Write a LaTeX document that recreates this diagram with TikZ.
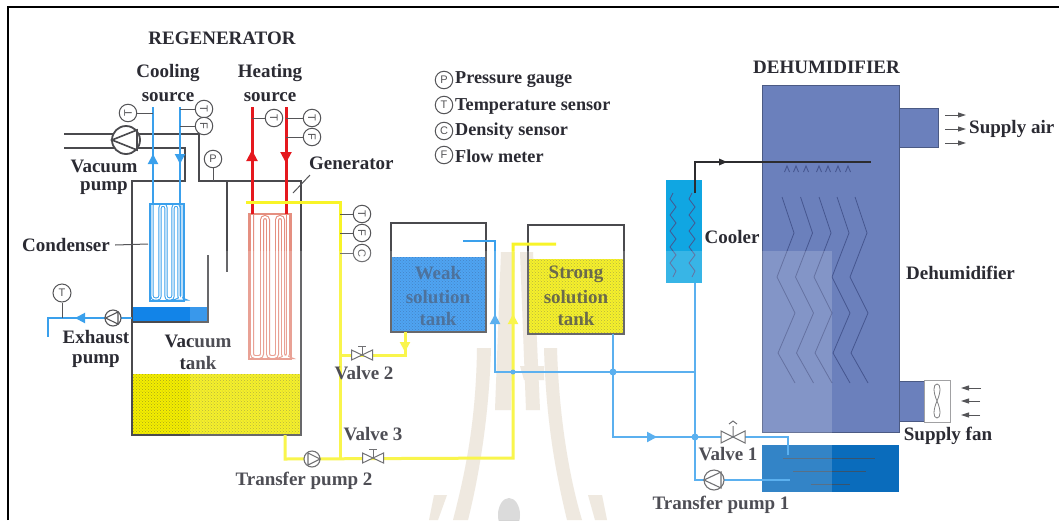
\documentclass[tikz,border=0pt]{standalone}
\usepackage{fontspec}
\setmainfont{Liberation Serif}
\newfontfamily\senfont{Liberation Sans}
\usetikzlibrary{arrows.meta,patterns,calc}
\definecolor{inkc}{HTML}{2B2B33}
\definecolor{wallc}{HTML}{4A4A4E}
\definecolor{bluec}{HTML}{3AA0EC}
\definecolor{redc}{HTML}{E5181E}
\definecolor{yelc}{HTML}{F8F428}
\definecolor{tanky}{HTML}{F4EE00}
\definecolor{tankyd}{HTML}{A8A418}
\definecolor{tankb}{HTML}{2C92F0}
\definecolor{tankbd}{HTML}{1F6CB8}
\definecolor{condw}{HTML}{1284E8}
\definecolor{coolc}{HTML}{10A6E2}
\definecolor{coilr}{HTML}{E58F80}
\definecolor{dehc}{HTML}{6B80BC}
\definecolor{zigc}{HTML}{46568F}
\definecolor{waterc}{HTML}{0A6CBC}
\definecolor{wmc}{HTML}{ECE5DA}
\definecolor{senc}{HTML}{555558}
\definecolor{weakt}{HTML}{2A5688}
\definecolor{strongt}{HTML}{4C4C28}
\tikzset{
  lab/.style={font=\bfseries\fontsize{19}{22}\selectfont,text=inkc,inner sep=0pt},
  leg/.style={font=\bfseries\fontsize{18.2}{22}\selectfont,text=inkc,inner sep=0pt,anchor=west},
  wall/.style={draw=wallc,line width=2.4pt},
  lead/.style={draw=senc,line width=1pt},
  sensor/.style={circle,draw=senc,line width=1pt,fill=white,inner sep=0pt,minimum size=17.5pt,font=\senfont\fontsize{11}{11}\selectfont,text=senc},
  bpipe/.style={draw=bluec,line width=2.8pt},
  rpipe/.style={draw=redc,line width=3pt},
  ypipe/.style={draw=yelc,line width=3pt},
  dot/.style={circle,fill=bluec,inner sep=0pt,minimum size=7pt},
  tipb/.style={-{Triangle[length=10pt,width=10pt]},bpipe,line width=2pt},
  tipr/.style={-{Triangle[length=11pt,width=11pt]},rpipe,line width=2pt},
  tipy/.style={-{Triangle[length=10pt,width=10pt]},ypipe,line width=2pt},
  airflow/.style={draw=senc,line width=1pt,-{Triangle[length=8pt,width=5pt]}},
  pumpc/.style={circle,draw=senc,line width=1.1pt,fill=white,inner sep=0pt},
  pumpt/.style={draw=senc,line width=1.1pt},
  valvet/.style={draw=senc,line width=1pt,fill=white},
  zig/.style={draw=zigc,line width=.8pt},
  wm/.style={fill=wmc},
  coilb/.style={draw=bluec,line width=1pt,double=white,double distance=1.3pt,rounded corners=3pt},
  coilh/.style={draw=coilr,line width=1.1pt,double=white,double distance=1.8pt,rounded corners=3pt},
}
\begin{document}
\begin{tikzpicture}[x=1pt,y=-1pt]
\useasboundingbox (0,0) rectangle (1059,520);
\fill[white] (0,0) rectangle (1059,520);
% frame (left and top only)
\draw[black,line width=2.2pt] (8,520) -- (8,7) -- (1059,7);
% watermark
\fill[wm] (501,252) -- (515,252) -- (511,410) -- (495,410) -- cycle;
\fill[wm] (520,252) -- (533,252) -- (540,410) -- (526,410) -- cycle;
\fill[wm] (520,366) -- (544,366) -- (544,380) -- (524,380) -- cycle;
\fill[wm] (477,348) -- (491,348) .. controls (489,420) and (478,480) .. (468,520) -- (453,520) .. controls (466,470) and (476,420) .. cycle;
\fill[wm] (544,348) -- (557,348) .. controls (559,420) and (570,480) .. (582,520) -- (567,520) .. controls (555,470) and (546,420) .. cycle;
\fill[wm] (434,495) -- (447,495) -- (438,520) -- (429,520) -- cycle;
\fill[wm] (588,495) -- (602,495) -- (607,520) -- (595,520) -- cycle;
\fill[black!17] (509,515) ellipse (11 and 17);
% vacuum tank liquids
\fill[tanky] (132,374) rectangle (301,435);
\fill[pattern=crosshatch dots,pattern color=tankyd] (132,374) rectangle (301,435);
\fill[condw] (132,307) rectangle (208,322);
% coils
\draw[coilb] (152,204) -- (152,299) -- (160,299) -- (160,205) -- (166,205) -- (166,299) -- (173,299) -- (173,205) -- (179,205) -- (179,299) -- (182,299) -- (182,204);
\draw[bluec,line width=1.6pt] (150,204) rectangle (184,301);
\draw[coilh] (252,214) -- (252,357) -- (262,357) -- (262,217) -- (268,217) -- (268,357) -- (277,357) -- (277,217) -- (283,217) -- (283,357) -- (288,357) -- (288,214);
\draw[coilr,line width=1.4pt] (249,214) rectangle (291,359);
% tank walls and vacuum plumbing
\coordinate (vpL) at (64,134); \coordinate (vpL2) at (64,148);
\coordinate (topA) at (185,148); \coordinate (topB) at (185,181);
\coordinate (topC) at (199,134); \coordinate (topD) at (199,181);
\coordinate (tankTL) at (132,181); \coordinate (tankTR) at (301,181);
\coordinate (tankBL) at (132,435); \coordinate (tankBR) at (301,435);
\draw[wall] (vpL2) -- (topA) -- (topB) -- (tankTL) -- (tankBL) -- (tankBR) -- (tankTR) -- (topD) -- (topC) -- (vpL);
\draw[wall] (227,181) -- (227,272);
\draw[wall] (208,255) -- (208,322) -- (132,322);
% heating/cooling pipes
\coordinate (cu0) at (153,107); \coordinate (cu1) at (153,204);
\coordinate (cd0) at (180,107); \coordinate (cd1) at (180,204);
\coordinate (hu0) at (252,107); \coordinate (hu1) at (252,214);
\coordinate (hd0) at (286,107); \coordinate (hd1) at (286,214);
\draw[bpipe] (cu0) -- (cu1);
\draw[bpipe] (cd0) -- (cd1);
\draw[rpipe] (hu0) -- (hu1);
\draw[rpipe] (hd0) -- (hd1);
\draw[tipb] (153,168) -- (153,154);
\draw[tipb] (180,150) -- (180,164);
\draw[tipr] (252,165) -- (252,150);
\draw[tipr] (286,148) -- (286,163);
% sensors of the regenerator
\node[sensor,rotate=90] (s1) at (128,113) {T};
\node[sensor,rotate=-90] (s2) at (204,109) {T};
\node[sensor,rotate=-90] (s3) at (204,126) {F};
\node[sensor,rotate=-90] (s4) at (274,118) {T};
\node[sensor,rotate=-90] (s5) at (312,118) {T};
\node[sensor,rotate=-90] (s6) at (312,137) {F};
\node[sensor] (s7) at (213,159) {P};
\draw[lead] (s1) -- (cu0 |- s1);
\draw[lead] (s2) -- (cd0 |- s2);
\draw[lead] (s3) -- (cd0 |- s3);
\draw[lead] (s4) -- (hu0 |- s4);
\draw[lead] (s5) -- (hd0 |- s5);
\draw[lead] (s6) -- (hd0 |- s6);
\draw[lead] (s7) -- (s7 |- tankTR);
% vacuum pump
\node[pumpc,minimum size=28pt,draw=wallc,line width=1.8pt] (vp) at (126,140) {};
\draw[pumpt,draw=wallc,line width=1.6pt] (112,140) -- (137,130) -- (137,150) -- cycle;
% exhaust
\coordinate (exA) at (132,318); \coordinate (exB) at (48,318); \coordinate (exC) at (48,337);
\draw[bpipe] (exA) -- (exB) -- (exC);
\draw[tipb] (88,318) -- (75,318);
\node[sensor,minimum size=18pt] (s8) at (62,293) {T};
\draw[lead] (s8) -- (s8 |- exB);
\node[pumpc,minimum size=16pt] (ep) at (113,318) {};
\draw[pumpt] (105.5,318) -- (118,312) -- (118,324) -- cycle;
% weak tank
\fill[tankb] (391,257) rectangle (486,332);
\fill[pattern=crosshatch dots,pattern color=tankbd] (391,257) rectangle (486,332);
\node[draw=wallc,line width=1.8pt,minimum width=95pt,minimum height=109pt,inner sep=0pt] (weak) at (438.5,277.5) {};
% strong tank
\fill[tanky] (528,259) rectangle (624,334);
\fill[pattern=crosshatch dots,pattern color=tankyd] (528,259) rectangle (624,334);
\node[draw=wallc,line width=1.8pt,minimum width=96pt,minimum height=109pt,inner sep=0pt] (strong) at (576,279.5) {};
% yellow pipes
\coordinate (y1) at (246,202); \coordinate (y2) at (340,202); \coordinate (y3) at (340,458);
\draw[ypipe] (y1) -- (y2) -- (y3);
\coordinate (v2) at (362,355); \coordinate (y4) at (405,355); \coordinate (y5) at (405,332);
\draw[ypipe] (v2 -| y2) -- (y4) -- (y5);
\draw[tipy] (405,338) -- (405,352);
\coordinate (y6) at (285,435); \coordinate (y7) at (285,459); \coordinate (y8) at (513,458); \coordinate (y9) at (513,244); \coordinate (y10) at (556,244);
\draw[ypipe] (y6) -- (y7) -- (y8) -- (y9) -- (y10);
\draw[tipy] (513,328) -- (513,314);
% density etc sensors
\node[sensor,rotate=-90] (s9) at (362,214) {T};
\node[sensor,rotate=-90] (s10) at (362,233) {F};
\node[sensor,rotate=-90] (s11) at (362,253) {C};
\draw[lead] (s9) -- (y2 |- s9);
\draw[lead] (s10) -- (y2 |- s10);
\draw[lead] (s11) -- (y2 |- s11);
% transfer pump 2, valves 2, 3
\node[pumpc,minimum size=16pt] (tp2) at (312,459) {};
\draw[pumpt] (320,459) -- (308,453) -- (308,465) -- cycle;
\coordinate (v3) at (373,458);
\draw[valvet] (v2) ++(-10.5,-5) -- ++(21,10) -- ++(0,-10) -- ++(-21,10) -- cycle;
\draw[senc,line width=1pt] (v2) -- ++(0,-8) ++(-4,-1) -- ++(8,0);
\draw[valvet] (v3) ++(-10.5,-5) -- ++(21,10) -- ++(0,-10) -- ++(-21,10) -- cycle;
\draw[senc,line width=1pt] (v3) -- ++(0,-8) ++(-4,-1) -- ++(8,0);
% dehumidifier
\fill[dehc,draw=dehc!70!black,line width=.6pt] (762,85) rectangle (899,432);
\fill[dehc,draw=dehc!70!black,line width=.6pt] (899,108) rectangle (938,147);
\fill[dehc,draw=dehc!70!black,line width=.6pt] (899,381) rectangle (924,421);
\fill[waterc] (762,445) rectangle (899,492);
\foreach \d in {0,18.5,37,55,73}{
  \draw[zig,shift={(\d,0)}] (782,197) -- (794,233) -- (777,277) -- (795,313) -- (778,353) -- (795,383);
}
\draw[wallc!70!waterc,line width=.8pt] (783,458) -- (875,458);
\draw[wallc!70!waterc,line width=.8pt] (793,471) -- (866,471);
\draw[wallc!70!waterc,line width=.8pt] (811,484) -- (850,484);
% supply fan
\node[draw=senc!55,line width=1pt,fill=white,minimum width=26pt,minimum height=42pt,inner sep=0pt] (fan) at (937,401) {};
\draw[senc!75,line width=.8pt] (937,401) .. controls (933,392) and (933,384) .. (937,384) .. controls (941,384) and (941,392) .. (937,401) .. controls (933,410) and (933,418) .. (937,418) .. controls (941,418) and (941,410) .. (937,401) -- cycle;
\coordinate (fa1) at (981,388); \coordinate (fb1) at (961,388);
\coordinate (fa2) at (980,401); \coordinate (fb2) at (961,401);
\coordinate (fa3) at (980,415); \coordinate (fb3) at (961,415);
\draw[airflow] (fa1) -- (fb1);
\draw[airflow] (fa2) -- (fb2);
\draw[airflow] (fa3) -- (fb3);
\coordinate (sa1) at (945,115); \coordinate (sb1) at (966,115);
\coordinate (sa2) at (945,129); \coordinate (sb2) at (966,129);
\coordinate (sa3) at (945,143); \coordinate (sb3) at (966,143);
\draw[airflow] (sa1) -- (sb1);
\draw[airflow] (sa2) -- (sb2);
\draw[airflow] (sa3) -- (sb3);
% cooler
\node[fill=coolc,minimum width=36pt,minimum height=103pt,inner sep=0pt] (cooler) at (684,231.5) {};
\foreach \xx in {673,692}{
  \draw[zigc,line width=.8pt] (\xx,193) -- ++(-3,6) -- ++(6,8) -- ++(-6,8) -- ++(6,8) -- ++(-6,8) -- ++(6,8) -- ++(-6,8) -- ++(6,8) -- ++(-6,8) -- ++(6,8) -- ++(-3,6);
}
% black spray pipe
\coordinate (bk0) at (695,193); \coordinate (bk1) at (695,162); \coordinate (bk2) at (871,162);
\draw[wallc!60!black,line width=2.4pt] (bk0) -- (bk1) -- (bk2);
\fill[wallc!60!black] (727,162) -- (719,158.5) -- (719,165.5) -- cycle;
\foreach \xx in {787,796,806,819,828,838,848}{
  \draw[zigc,line width=.9pt] (\xx-2.5,172) -- (\xx,166) -- (\xx+2.5,172);
}
% blue network
\coordinate (b1) at (463,241); \coordinate (b2) at (495,241); \coordinate (b3) at (495,372); \coordinate (b4) at (695,372);
\draw[bpipe] (b1) -- (b2) -- (b3) -- (b4);
\draw[tipb] (495,328) -- (495,314);
\coordinate (b5) at (613,334); \coordinate (b6) at (613,437); \coordinate (v1) at (733,437);
\coordinate (b7) at (788,437); \coordinate (b8) at (788,455);
\draw[bpipe] (b5) -- (b6) -- (b7) -- (b8);
\draw[tipb] (643,437) -- (657,437);
\coordinate (b9) at (695,283); \coordinate (b10) at (695,480); \coordinate (b11) at (790,480);
\draw[bpipe] (b9) -- (b10) -- (b11);
\node[dot] (d1) at (b5 |- b3) {};
\node[dot] (d2) at (b9 |- b6) {};
\node[dot,minimum size=5pt] (d3) at (y8 |- b3) {};
% valve 1, transfer pump 1
\draw[valvet] (v1) ++(-12,-6) -- ++(24,12) -- ++(0,-12) -- ++(-24,12) -- cycle;
\draw[senc,line width=1pt] (v1) -- ++(0,-11) ++(-4,-2) -- ++(4,-3) -- ++(4,3);
\node[pumpc,minimum size=20pt] (tp1) at (714,480) {};
\draw[pumpt] (704,480) -- (721,472) -- (721,488) -- cycle;
% labels
\node[lab] (t1) at (222,38) {REGENERATOR};
\node[lab] (t2) at (826.5,67) {DEHUMIDIFIER};
\node[lab] (t3) at (168,73) {Cooling};
\node[lab] (t4) at (168,97) {source};
\node[lab] (t5) at (270,73) {Heating};
\node[lab] (t6) at (270,97) {source};
\node[lab] (t7) at (104,166) {Vacuum};
\node[lab] (t8) at (104,188) {pump};
\node[lab,anchor=west] (t9) at (22,245) {Condenser};
\coordinate (cl) at (148,244);
\draw[lead] (t9.east)++(5,0) -- (cl);
\node[lab,anchor=west] (t10) at (309,163) {Generator};
\coordinate (gl1) at (310,175); \coordinate (gl2) at (293,193);
\draw[lead] (gl1) -- (gl2);
\node[lab] (t11) at (96,337) {Exhaust};
\node[lab] (t12) at (96,361) {pump};
\node[lab] (t13) at (198,341) {Vacuum};
\node[lab] (t14) at (198,363) {tank};
\node[lab] (t15) at (364,373) {Valve 2};
\node[lab] (t16) at (373,434) {Valve 3};
\node[lab] (t17) at (304,481) {Transfer pump 2};
\node[lab] (t18) at (728,454) {Valve 1};
\node[lab] (t19) at (721,505) {Transfer pump 1};
\node[lab] (t20) at (948,436) {Supply fan};
\node[lab,anchor=west] (t21) at (969,129) {Supply air};
\node[lab] (t22) at (732,237) {Cooler};
\node[lab,anchor=west] (t23) at (906,273) {Dehumidifier};
\node[lab,text=weakt] (t24) at (438,273) {Weak};
\node[lab,text=weakt] (t25) at (438,297) {solution};
\node[lab,text=weakt] (t26) at (438,319) {tank};
\node[lab,text=strongt] (t27) at (576,274) {Strong};
\node[lab,text=strongt] (t28) at (576,297) {solution};
\node[lab,text=strongt] (t29) at (576,319) {tank};
% legend
\node[sensor] (l1) at (444,80) {P};
\node[sensor] (l2) at (444,105) {T};
\node[sensor] (l3) at (444,131) {C};
\node[sensor] (l4) at (444,155) {F};
\node[leg] (l1t) at (455,80) {Pressure gauge};
\node[leg] (l2t) at (455,106) {Temperature sensor};
\node[leg] (l3t) at (455,131) {Density sensor};
\node[leg] (l4t) at (455,156) {Flow meter};
% pale veil over the lower part of the scan
\fill[white,opacity=.17] (190,251) rectangle (832,520);
\end{tikzpicture}
\end{document}
